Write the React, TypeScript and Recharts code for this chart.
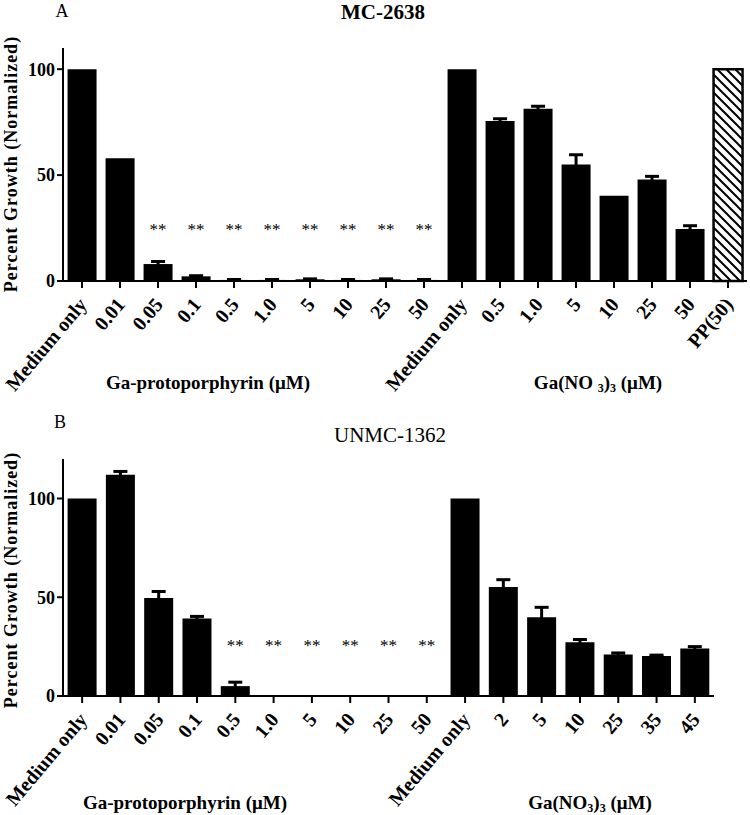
import React from "react";
import { Bar, Cell, ComposedChart, ErrorBar, Line, XAxis, YAxis } from "recharts";

const serif = '"Liberation Serif", "Times New Roman", serif';

// Panel A: MC-2638
const catsA = ["Medium only", "0.01", "0.05", "0.1", "0.5", "1.0", "5", "10", "25", "50", "Medium only", "0.5", "1.0", "5", "10", "25", "50", "PP(50)"];
const growthA = [100, 58, 8, 2.2, 0.5, 0.5, 0.8, 0.5, 0.8, 0.5, 100, 75.5, 81.3, 55, 40.3, 47.9, 24.6, 100];
const semA = [0, 0, 1.2, 0.3, 0.2, 0.2, 0.2, 0.2, 0.2, 0.2, 0, 1.1, 1.2, 4.6, 0, 1.5, 1.5, 0];
const starsA = [null, null, 26, 26, 26, 26, 26, 26, 26, 26, null, null, null, null, null, null, null, null];

// Panel B: UNMC-1362
const catsB = ["Medium only", "0.01", "0.05", "0.1", "0.5", "1.0", "5", "10", "25", "50", "Medium only", "2", "5", "10", "25", "35", "45"];
const growthB = [100, 112, 49.6, 39.3, 5, 0, 0.5, 0.5, 0, 0, 100, 55.2, 39.9, 27.2, 21, 20.3, 24];
const semB = [0, 1.7, 3.3, 1, 2, 0, 0, 0, 0, 0, 0, 3.7, 5, 1.4, 0.8, 0.4, 1];
const starsB = [null, null, null, null, 27.5, 27.5, 27.5, 27.5, 27.5, 27.5, null, null, null, null, null, null, null];

const yTicks = [0, 50, 100];

function buildRows(cats: string[], vals: number[], sem: number[], stars: (number | null)[]) {
  return cats.map((c, i) => ({ id: String(i), label: c, value: vals[i], err: sem[i], star: stars[i] }));
}

const rowsA = buildRows(catsA, growthA, semA, starsA);
const rowsB = buildRows(catsB, growthB, semB, starsB);

function XTick(props: any) {
  const { x, y, payload, labels } = props;
  const label = labels[Number(payload.value)];
  const tx = x + 6;
  const ty = y + 15;
  return (
    <text
      x={tx}
      y={ty}
      transform={`rotate(-50, ${tx}, ${ty})`}
      textAnchor="end"
      fontFamily={serif}
      fontWeight="bold"
      fontSize={20}
      fill="#000"
    >
      {label}
    </text>
  );
}

function starDot(props: any) {
  const { cx, cy, value, index } = props;
  if (value == null || cy == null || isNaN(cy)) return <g key={`s${index}`} />;
  return (
    <text key={`s${index}`} x={cx} y={cy + 9} textAnchor="middle" fontFamily={serif} fontSize={17} fill="#000">
      **
    </text>
  );
}

type PanelProps = {
  rows: ReturnType<typeof buildRows>;
  labels: string[];
  height: number;
  top: number;
  right: number;
  max: number;
  hatchLast?: boolean;
};

function Panel({ rows, labels, height, top, right, max, hatchLast }: PanelProps) {
  return (
    <ComposedChart
      width={750}
      height={height}
      data={rows}
      margin={{ top, right, bottom: 0, left: 0 }}
      barCategoryGap="12%"
    >
      <XAxis
        dataKey="id"
        type="category"
        interval={0}
        height={119}
        tickSize={7}
        axisLine={{ stroke: "#000", strokeWidth: 2 }}
        tickLine={{ stroke: "#000", strokeWidth: 2 }}
        tick={(p: any) => <XTick {...p} labels={labels} />}
      />
      <YAxis
        width={63}
        domain={[0, max]}
        ticks={yTicks}
        tickSize={6}
        axisLine={{ stroke: "#000", strokeWidth: 2 }}
        tickLine={{ stroke: "#000", strokeWidth: 2 }}
        tick={{ fill: "#000", fontSize: 18, fontWeight: "bold", fontFamily: serif }}
      />
      <Bar dataKey="value" fill="#000" isAnimationActive={false}>
        {rows.map((r, i) =>
          hatchLast && i === rows.length - 1 ? (
            <Cell key={r.id} fill="url(#hatch)" stroke="#000" strokeWidth={2.5} />
          ) : (
            <Cell key={r.id} fill="#000" />
          )
        )}
        <ErrorBar dataKey="err" width={7} stroke="#000" strokeWidth={3} direction="y" />
      </Bar>
      <Line dataKey="star" stroke="none" dot={starDot} activeDot={false} isAnimationActive={false} />
    </ComposedChart>
  );
}

function Label({ x, y, children, bold, size, rotate, spacing }: any) {
  return (
    <div
      style={{
        position: "absolute",
        left: x,
        top: y,
        transform: `translate(-50%, -50%)${rotate ? " rotate(-90deg)" : ""}`,
        whiteSpace: "nowrap",
        fontFamily: serif,
        fontWeight: bold ? "bold" : "normal",
        fontSize: size,
        letterSpacing: spacing ?? 0,
        lineHeight: 1,
        color: "#000",
      }}
    >
      {children}
    </div>
  );
}

const sub = { fontSize: 12, verticalAlign: "-3px", lineHeight: 0 };

export default function App() {
  return (
    <div style={{ position: "absolute", left: 0, top: 0, width: 750, height: 815, background: "#fff", overflow: "hidden" }}>
      <svg width={0} height={0} style={{ position: "absolute" }}>
        <defs>
          <pattern id="hatch" patternUnits="userSpaceOnUse" width={9} height={9}>
            <path d="M0,0 L9,9 M-3,6 L3,12 M6,-3 L12,3" stroke="#000" strokeWidth={2} />
          </pattern>
        </defs>
      </svg>
      <div style={{ position: "absolute", left: 0, top: 0 }}>
        <Panel rows={rowsA} labels={catsA} height={400} top={48} right={3} max={110} hatchLast />
      </div>
      <div style={{ position: "absolute", left: 0, top: 400 }}>
        <Panel rows={rowsB} labels={catsB} height={415} top={59} right={36} max={120} />
      </div>

      <Label x={62} y={11} size={18}>A</Label>
      <Label x={383} y={12} size={21} bold>MC-2638</Label>
      <Label x={11} y={164} size={18} bold rotate spacing={1}>Percent Growth (Normalized)</Label>
      <Label x={208} y={382} size={19} bold>Ga-protoporphyrin (μM)</Label>
      <Label x={598} y={382} size={19} bold>
        Ga(NO <span style={sub}>3</span>)<span style={sub}>3</span> (μM)
      </Label>

      <Label x={60} y={422} size={18}>B</Label>
      <Label x={390} y={435} size={21}>UNMC-1362</Label>
      <Label x={11} y={580} size={18} bold rotate spacing={1}>Percent Growth (Normalized)</Label>
      <Label x={185} y={802} size={19} bold>Ga-protoporphyrin (μM)</Label>
      <Label x={590} y={802} size={19} bold>
        Ga(NO<span style={sub}>3</span>)<span style={sub}>3</span> (μM)
      </Label>
    </div>
  );
}
